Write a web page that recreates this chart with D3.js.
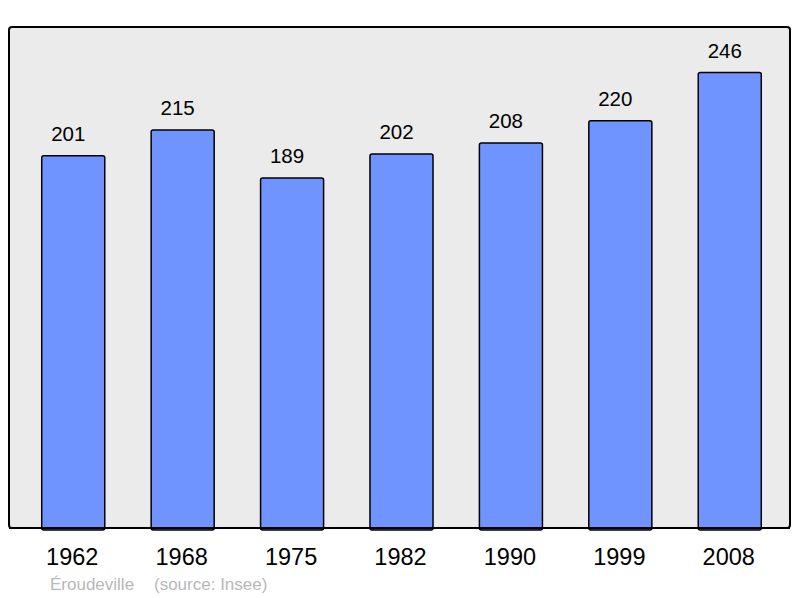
<!DOCTYPE html>
<html><head><meta charset="utf-8">
<script src="https://cdn.jsdelivr.net/npm/d3@7"></script>
<style>body{margin:0;background:#fff}svg{display:block}</style>
</head><body>
<script>
const years = ["1962","1968","1975","1982","1990","1999","2008"];
const population = [201,215,189,202,208,220,246];
const townName = "Éroudeville";
const sourceText = "(source: Insee)";

const W = 800, H = 598;
const frame = {left: 9, top: 27, right: 790, bottom: 528};
const svg = d3.select("body").append("svg").attr("width", W).attr("height", H);

svg.append("rect")
  .attr("x", frame.left).attr("y", frame.top)
  .attr("width", frame.right - frame.left).attr("height", frame.bottom - frame.top)
  .attr("rx", 3).attr("fill", "#ebebeb").attr("stroke", "#000").attr("stroke-width", 2);

const x = d3.scaleBand().domain(years).range([10, 793]).paddingInner(0.424).paddingOuter(0.29);
const y = d3.scaleLinear().domain([0, d3.max(population) * 1.1]).range([frame.bottom, frame.top]);

const data = years.map((yr, i) => ({yr, v: population[i]}));

svg.selectAll("rect.bar").data(data).enter().append("rect")
  .attr("class", "bar")
  .attr("x", d => x(d.yr)).attr("y", d => y(d.v))
  .attr("width", x.bandwidth()).attr("height", d => y(0) - y(d.v) + 2)
  .attr("rx", 2)
  .attr("fill", "#7094ff").attr("stroke", "#000").attr("stroke-width", 1.5);

svg.append("line").attr("x1", frame.left).attr("x2", frame.right)
  .attr("y1", frame.bottom).attr("y2", frame.bottom)
  .attr("stroke", "#000").attr("stroke-width", 2);

const font = "Liberation Sans, Arial, sans-serif";

svg.selectAll("text.val").data(data).enter().append("text")
  .attr("x", d => x(d.yr) + x.bandwidth() / 2 - 5).attr("y", d => y(d.v) - 15)
  .attr("text-anchor", "middle")
  .attr("font-family", font).attr("font-size", 20.5)
  .attr("fill", "#000").text(d => d.v);

svg.selectAll("text.yr").data(years).enter().append("text")
  .attr("x", d => x(d) + x.bandwidth() / 2 - 1).attr("y", 565)
  .attr("text-anchor", "middle")
  .attr("font-family", font).attr("font-size", 23.5)
  .attr("fill", "#000").text(d => d);

svg.append("text").attr("x", 50).attr("y", 590)
  .attr("font-family", font).attr("font-size", 17)
  .attr("fill", "#b8b8b8").text(townName);
svg.append("text").attr("x", 154).attr("y", 590)
  .attr("font-family", font).attr("font-size", 17)
  .attr("fill", "#b8b8b8").text(sourceText);
</script>
</body></html>
